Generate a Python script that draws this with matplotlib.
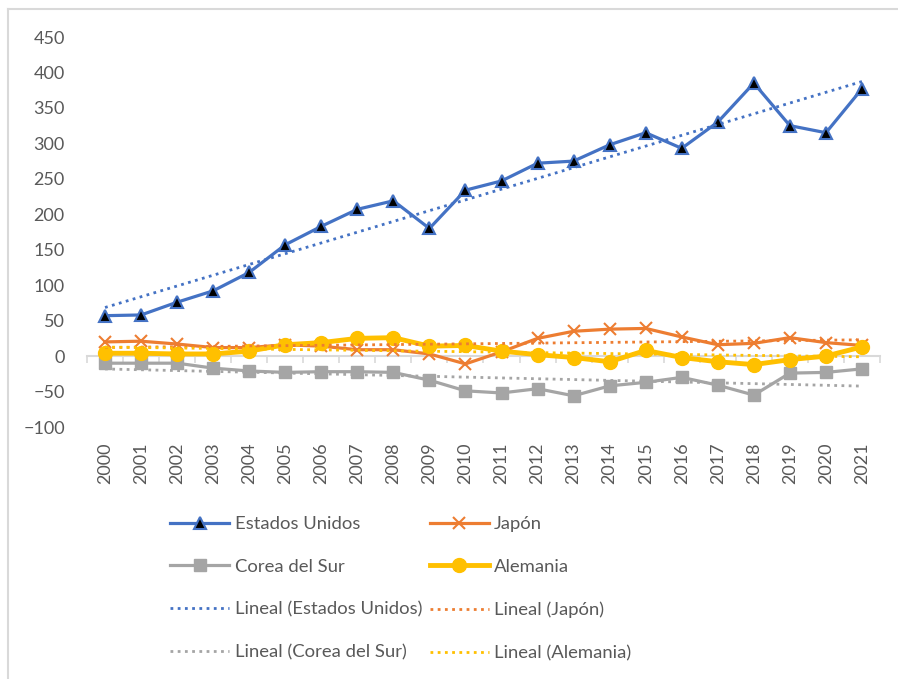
import matplotlib
matplotlib.use('Agg')
import matplotlib.pyplot as plt
import numpy as np

plt.rcParams['font.family'] = ['Lato', 'DejaVu Sans']

# Data
years = list(range(2000, 2022))
estados_unidos = [57, 58, 76, 92, 118, 157, 183, 207, 219, 180, 234, 247,
                  272, 275, 298, 315, 293, 330, 385, 325, 315, 377]
japon = [20, 21, 17, 12, 12, 16, 14, 9, 9, 3, -11, 6,
         25, 35, 38, 39, 27, 16, 18, 26, 19, 15]
corea_del_sur = [-10, -10, -10, -17, -21, -23, -22, -22, -23, -34, -49, -52,
                 -46, -56, -42, -37, -30, -41, -55, -24, -23, -18]
alemania = [4, 4, 3, 3, 7, 16, 19, 25, 26, 14, 15, 7,
            2, -2, -8, 8, -2, -8, -12, -5, 0, 13]

series = [
    ('Estados Unidos', estados_unidos, '#4472C4', dict(marker='^', ms=9, mfc='black', mec='#4472C4', mew=1.5, lw=2.3)),
    ('Japón', japon, '#ED7D31', dict(marker='x', ms=9, mew=1.5, lw=2.3)),
    ('Corea del Sur', corea_del_sur, '#A5A5A5', dict(marker='s', ms=9, lw=2.3)),
    ('Alemania', alemania, '#FFC000', dict(marker='o', ms=10, lw=3.5)),
]

text_color = '#595959'
grid_color = '#D9D9D9'

fig = plt.figure(figsize=(8.98, 6.79), dpi=100)
ax = fig.add_axes([87 / 898, 252 / 679, 793 / 898, 390 / 679])

x = np.arange(len(years))
handles = {}
for name, vals, col, kw in series:
    h, = ax.plot(x, vals, color=col, label=name, zorder=3, **kw)
    handles[name] = h

# linear trendlines
for name, vals, col, kw in series:
    k, b = np.polyfit(x, vals, 1)
    h, = ax.plot(x, k * x + b, color=col, lw=2, linestyle=(0, (1, 1.6)),
                 label='Lineal (%s)' % name, zorder=4)
    handles['Lineal (%s)' % name] = h

ax.set_xlim(-0.5, len(years) - 0.5)
ax.set_ylim(-100, 450)
ax.set_yticks(range(-100, 451, 50))
ax.set_xticks(x)
ax.set_xticklabels([str(y) for y in years], rotation=90)
ax.tick_params(axis='both', length=0, labelsize=13, labelcolor=text_color)
ax.tick_params(axis='y', pad=16)
ax.tick_params(axis='x', pad=11)
for s in ax.spines.values():
    s.set_visible(False)

# category axis line at zero with tick marks between categories
sec = ax.secondary_xaxis(100 / 550)
sec.spines['bottom'].set_color(grid_color)
sec.spines['bottom'].set_linewidth(1.5)
sec.set_xticks(np.arange(-0.5, len(years), 1))
sec.tick_params(axis='x', length=5, width=1.2, color=grid_color, labelbottom=False)

order = ['Estados Unidos', 'Corea del Sur', 'Lineal (Estados Unidos)', 'Lineal (Corea del Sur)',
         'Japón', 'Alemania', 'Lineal (Japón)', 'Lineal (Alemania)']
leg = fig.legend([handles[n] for n in order], order, ncol=2, frameon=False,
                 loc='upper left', bbox_to_anchor=(170 / 898, 1 - 516 / 679),
                 borderaxespad=0, borderpad=0, fontsize=13.3, handlelength=3.2,
                 handletextpad=0.3, columnspacing=0.4, labelspacing=1.45)
for t in leg.get_texts():
    t.set_color(text_color)

# chart border (left and top edges visible)
fig.add_artist(plt.Line2D([8 / 898, 8 / 898], [0, 1 - 9 / 679], color=grid_color, lw=1.5))
fig.add_artist(plt.Line2D([8 / 898, 1], [1 - 9 / 679, 1 - 9 / 679], color=grid_color, lw=1.5))

fig.savefig('out.png', dpi=100)
